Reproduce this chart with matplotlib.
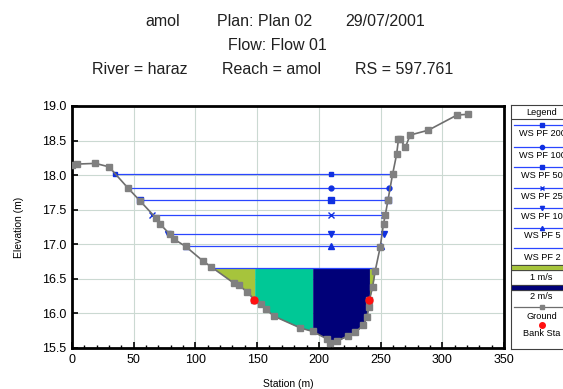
"""
HEC-RAS style cross section plot: amol reach, RS 597.761.
"""

import numpy as np
import matplotlib
matplotlib.use("Agg")
import matplotlib.pyplot as plt
import matplotlib.patheffects as pe

plt.rcParams["font.family"] = ["Liberation Sans", "DejaVu Sans"]

# ground profile (station, elevation)
ground_sta = [0, 4, 19, 30, 45, 55, 68, 71, 79, 83, 92, 106, 113, 131, 135,
              142, 147.6, 153, 157, 163.7, 185, 195, 206.7, 209.4, 214.8,
              224, 229.6, 236, 239, 240.3, 241, 243.5, 245.7, 249.7, 252.4,
              253.8, 256, 259.7, 263, 264.5, 266, 270, 274, 288.7, 312, 321]
ground_elev = [18.15, 18.16, 18.17, 18.12, 17.82, 17.63, 17.38, 17.30, 17.15,
               17.07, 16.97, 16.76, 16.67, 16.44, 16.41, 16.31, 16.20, 16.13,
               16.06, 15.96, 15.79, 15.74, 15.63, 15.57, 15.60, 15.68, 15.73,
               15.83, 15.95, 16.09, 16.20, 16.38, 16.62, 16.96, 17.30, 17.42,
               17.64, 18.01, 18.30, 18.52, 18.52, 18.40, 18.58, 18.65, 18.87,
               18.88]

# water surfaces per profile: label, elevation, left / right edge
ws_labels = ["WS PF 200", "WS PF 100", "WS PF 50", "WS PF 25", "WS PF 10",
             "WS PF 5", "WS PF 2"]
ws_elev = [18.02, 17.82, 17.64, 17.43, 17.15, 16.97, 16.65]
ws_left = [34.7, 45.0, 55.0, 65.0, 77.7, 92.5, 113.8]
ws_right = [259.7, 257.0, 256.0, 253.0, 252.4, 250.0, 245.7]
ws_mid = 209.5
ws_markers = ["s", "o", "s", "x", "v", "^", ""]
ws_msize = [3.5, 3.5, 5, 4, 4, 4, 0]

# velocity color bands under WS PF 2
band_edges = [113.8, 148.0, 195.0, 241.0, 245.7]
band_colors = ["#a6c43c", "#00c896", "#000078", "#a6c43c"]

bank_sta = [147.6, 241.0]
bank_elev = [16.20, 16.20]

fig = plt.figure(figsize=(5.63, 3.89), dpi=100)
ax = fig.add_axes([72 / 563, 41 / 389, 432 / 563, 242 / 389])

# velocity fill
for a, b, c in zip(band_edges[:-1], band_edges[1:], band_colors):
    xs = np.linspace(a, b, 60)
    gy = np.interp(xs, ground_sta, ground_elev)
    ax.fill_between(xs, gy, ws_elev[-1], where=gy <= ws_elev[-1],
                    color=c, lw=0, zorder=2)

# water surface lines
for lab, y, l, r, m, ms in zip(ws_labels, ws_elev, ws_left, ws_right,
                               ws_markers, ws_msize):
    ax.plot([l, r], [y, y], color="#2a46ff", lw=0.9, zorder=3)
    if m:
        ax.plot([l, ws_mid, r], [y, y, y], ls="none", marker=m, ms=ms,
                color="#1030e0", mew=1, zorder=4)

ax.plot(ground_sta, ground_elev, color="#6e6e6e", lw=1.2, marker="s",
        ms=4, mfc="#808080", mec="#808080", zorder=5)
ax.plot(bank_sta, bank_elev, "o", color="#ff1010", ms=5, zorder=6)

ax.set_xlim(0, 350)
ax.set_ylim(15.5, 19.0)
ax.set_xticks(np.arange(0, 351, 50))
ax.set_xticks(np.arange(0, 351, 10), minor=True)
ax.set_yticks(np.arange(15.5, 19.01, 0.5))
ax.set_yticklabels(["%.1f" % v for v in np.arange(15.5, 19.01, 0.5)])
ax.grid(True, color="#cbd9d2", lw=0.8, zorder=0)
ax.set_axisbelow(True)
ax.tick_params(direction="in", labelsize=9, length=4, width=1.2, pad=4)
ax.tick_params(which="minor", direction="in", length=2, width=1)
for s in ax.spines.values():
    s.set_linewidth(2)
ax.set_xlabel("Station (m)", fontsize=7.5, labelpad=10)
ax.set_ylabel("Elevation (m)", fontsize=7.5, labelpad=13)

# title, three lines
W, H = 563.0, 389.0
tfs = 11.5
title_parts = [
    (145, 21, "amol"), (217, 21, "Plan: Plan 02"), (345, 21, "29/07/2001"),
    (228, 45, "Flow: Flow 01"),
    (92, 69, "River = haraz"), (222, 69, "Reach = amol"),
    (355, 69, "RS = 597.761"),
]
for px, py, s in title_parts:
    fig.text(px / W, 1 - py / H, s, ha="left", va="center", fontsize=tfs,
             color="#202020")

# legend panel
lg = fig.add_axes([511 / 563, 40 / 389, 60 / 563, 244 / 389])
lg.set_xlim(511, 571)
lg.set_ylim(349, 105)
lg.set_xticks([])
lg.set_yticks([])
for s in lg.spines.values():
    s.set_linewidth(0.8)
    s.set_color("#404040")
tx = 542
lfs = 6.6
lg.text(tx, 112.5, "Legend", ha="center", va="center", fontsize=lfs)
lg.plot([511, 571], [119, 119], color="#404040", lw=0.8)
rows_line = [125, 146.7, 166.7, 188, 208.3, 228, 248.3]
rows_text = [134, 155, 175, 196.7, 216.7, 235.5, 257.3]
for lab, m, ly, ty in zip(ws_labels, ws_markers, rows_line, rows_text):
    lg.plot([514, 571], [ly, ly], color="#2a46ff", lw=0.9)
    if m:
        lg.plot([tx], [ly], marker=m, ms=3, color="#1030e0")
    lg.text(tx, ty, lab, ha="center", va="center", fontsize=lfs)
stroke = [pe.withStroke(linewidth=4.5, foreground="#404040")]
lg.plot([514, 571], [267.7, 267.7], color="#a6c43c", lw=3,
        path_effects=stroke)
lg.text(tx - 1, 277.7, "1 m/s", ha="center", va="center", fontsize=lfs)
lg.plot([514, 571], [287.7, 287.7], color="#000078", lw=3,
        path_effects=stroke)
lg.text(tx - 1, 296.7, "2 m/s", ha="center", va="center", fontsize=lfs)
lg.plot([514, 571], [306.7, 306.7], color="#6e6e6e", lw=0.9)
lg.plot([tx], [306.7], marker="s", ms=2.5, color="#808080")
lg.text(tx, 316.7, "Ground", ha="center", va="center", fontsize=lfs)
lg.plot([tx], [325], "o", color="#ff1010", ms=4)
lg.text(tx, 334, "Bank Sta", ha="center", va="center", fontsize=lfs)

fig.savefig("out.png", dpi=100)
